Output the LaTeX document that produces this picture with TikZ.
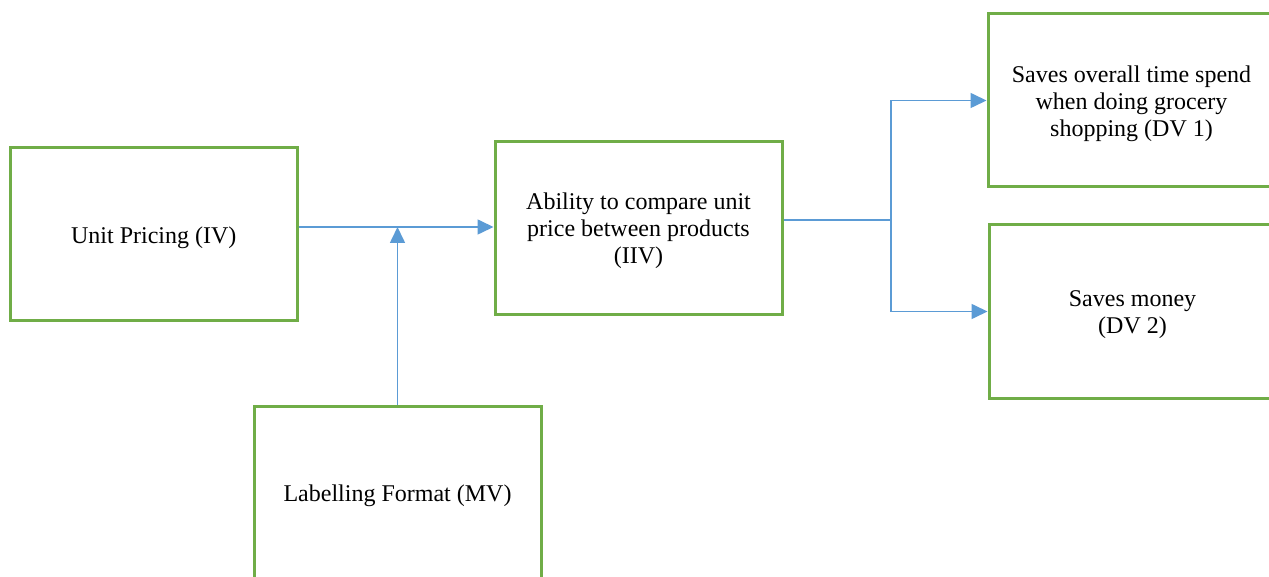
\documentclass[tikz,border=0pt]{standalone}
\usepackage{fontspec}
\setmainfont{Liberation Serif}
\usetikzlibrary{arrows.meta}
\definecolor{boxgreen}{HTML}{70AD47}
\definecolor{linkblue}{HTML}{5B9BD5}
\tikzset{
  box/.style={draw=boxgreen, line width=3pt, minimum width=287pt, minimum height=173pt,
    inner sep=0pt,
    label={[yshift=-3pt, align=center, inner sep=0pt, font=\fontsize{24}{27}\selectfont]center:#1}},
  arr/.style={draw=linkblue, line width=1.6pt, -{Triangle[length=16pt,width=15pt]}},
  link/.style={draw=linkblue, line width=1.6pt}
}
\begin{document}
\begin{tikzpicture}[x=1pt,y=-1pt]
\clip (0,0) rectangle (1269,577);
\fill[white] (0,0) rectangle (1269,577);
\node[box={Unit Pricing (IV)}] (unit) at (153.75,234.5) {};
\node[box={Ability to compare unit\\price between products\\(IIV)}] (abil) at (638.5,228) {};
\node[box={Labelling Format (MV)}] (lab) at (397.5,492.5) {};
\node[box={Saves overall time spend\\when doing grocery\\shopping (DV 1)}] (dv1) at (1131.5,100.5) {};
\node[box={Saves money\\(DV 2)}] (dv2) at (1132.5,311.5) {};
\coordinate (j) at (397.5,227);
\coordinate (s) at (891,220);
\draw[arr] (unit.east |- j) -- (abil.west |- j);
\draw[arr] (lab.north) -- (j);
\draw[link] (abil.east |- s) -- (s);
\draw[arr] (s) |- (dv1.west);
\draw[arr] (s) |- (dv2.west);
\end{tikzpicture}
\end{document}
